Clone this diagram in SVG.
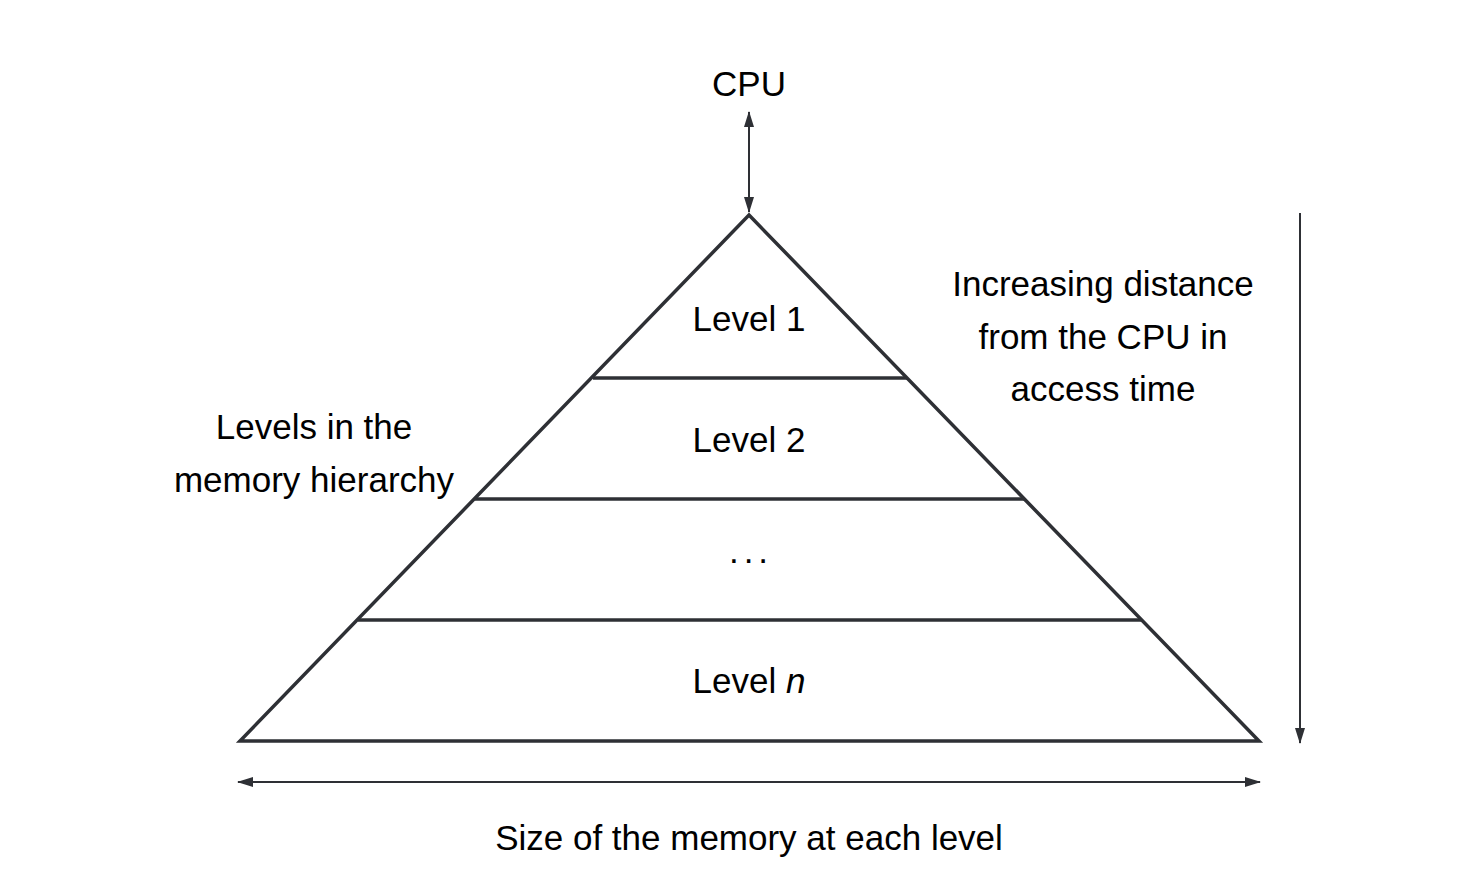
<svg xmlns="http://www.w3.org/2000/svg" width="1477" height="875" viewBox="0 0 1477 875">
<style>
text{font-family:"Liberation Sans",Arial,sans-serif;font-size:35px;fill:#000;text-anchor:middle}
.pyr{fill:none;stroke:#2e3035;stroke-width:3.5;stroke-linejoin:miter}
.arr{fill:none;stroke:#2e3035;stroke-width:2}
</style>
<defs>
<marker id="ah" viewBox="0 0 16 10" refX="15" refY="5" markerWidth="16" markerHeight="10" markerUnits="userSpaceOnUse" orient="auto-start-reverse">
<path d="M0,0 L16,5 L0,10 Z" fill="#2e3035"/>
</marker>
</defs>
<g id="pyramid">
<polygon class="pyr" points="749,215 1259,741 240,741"/>
<line class="pyr" x1="593" y1="378" x2="907" y2="378"/>
<line class="pyr" x1="475" y1="499" x2="1024" y2="499"/>
<line class="pyr" x1="358" y1="620" x2="1141" y2="620"/>
</g>
<g id="level1"><text x="749" y="331">Level 1</text></g>
<g id="level2"><text x="749" y="452">Level 2</text></g>
<g id="levelDots"><text x="751" y="563" letter-spacing="5">...</text></g>
<g id="levelN"><text x="749" y="693">Level <tspan font-style="italic">n</tspan></text></g>
<g id="cpu"><text x="749" y="96">CPU</text></g>
<g id="levelsLabel"><text x="314" y="439">Levels in the</text><text x="314" y="492">memory hierarchy</text></g>
<g id="distanceLabel"><text x="1103" y="296">Increasing distance</text><text x="1103" y="349">from the CPU in</text><text x="1103" y="401">access time</text></g>
<g id="sizeLabel"><text x="749" y="850">Size of the memory at each level</text></g>
<g id="connectors">
<line class="arr" x1="749" y1="112" x2="749" y2="212" marker-start="url(#ah)" marker-end="url(#ah)"/>
<line class="arr" x1="1300" y1="213" x2="1300" y2="743" marker-end="url(#ah)"/>
<line class="arr" x1="238" y1="782" x2="1260" y2="782" marker-start="url(#ah)" marker-end="url(#ah)"/>
</g>
</svg>
